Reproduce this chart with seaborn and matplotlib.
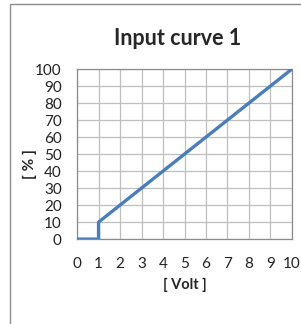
import matplotlib
matplotlib.use("Agg")
import matplotlib.pyplot as plt
import seaborn as sns
import pandas as pd
from matplotlib.patches import Rectangle

# data
volt = [0, 1, 1, 10]
percent = [0, 0, 10, 100]
x_ticks = list(range(0, 11))
y_ticks = list(range(0, 101, 10))

df = pd.DataFrame({'volt': volt, 'percent': percent})

sns.set_style('white')
plt.rcParams['font.family'] = ['Lato', 'DejaVu Sans']

fig = plt.figure(figsize=(3.01, 3.24), dpi=100)
ax = fig.add_axes([0.256, 0.262, 0.714, 0.525])

# outer chart frame
fig.patches.append(Rectangle((9.5 / 301, -0.1), 1.2, 1 - 4.5 / 324 + 0.1,
                             transform=fig.transFigure, fill=False,
                             edgecolor='#8c8c8c', linewidth=1.0))

sns.lineplot(data=df, x='volt', y='percent', sort=False, estimator=None,
             ax=ax, color='#4a7ebb', linewidth=2.4, zorder=3)

ax.set_xlim(0, 10)
ax.set_ylim(0, 100)
ax.set_xticks(x_ticks)
ax.set_yticks(y_ticks)
ax.grid(True, color='#bfbfbf', linewidth=0.9)
for s in ax.spines.values():
    s.set_color('#8c8c8c')
    s.set_linewidth(0.9)
ax.tick_params(length=0, labelsize=11, colors='#222222')
ax.tick_params(axis='x', pad=13)
ax.tick_params(axis='y', pad=11)

ax.set_xlabel('[ Volt ]', fontsize=10.5, fontweight='bold', labelpad=5)
ax.set_ylabel('[ % ]', fontsize=11, fontweight='bold')
ax.yaxis.set_label_coords(-0.185, 0.44)
ax.set_title('Input curve 1', fontsize=15.5, fontweight='bold', pad=17, x=0.467)

fig.savefig('out.png', dpi=100)
